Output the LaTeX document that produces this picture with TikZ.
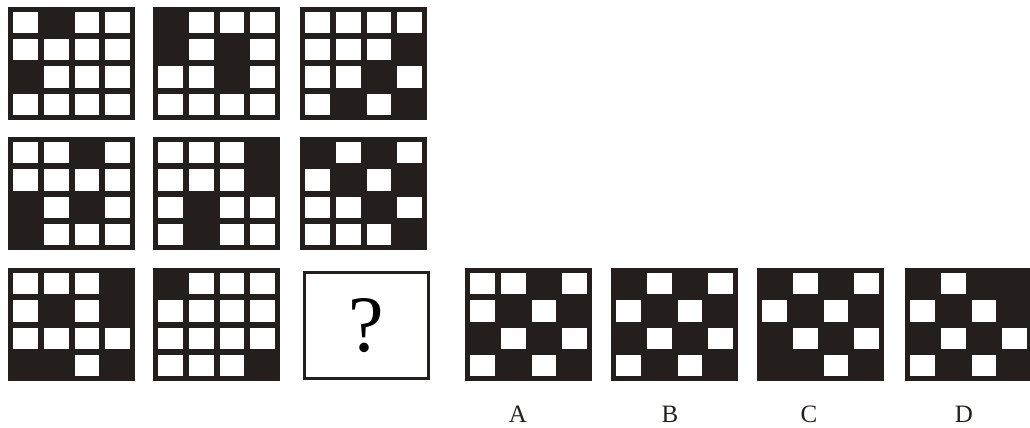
\documentclass[tikz,border=0pt]{standalone}
\usepackage{fontspec}
\setmainfont{Liberation Serif}
\definecolor{ink}{RGB}{36,31,28}

\newcommand{\gridpanel}[4]{% name, left, top, cells row by row (1 = black)
    \node[panel] (#1) at (#2,#3) {};
    \foreach \cell [count=\i from 0] in {#4} {
        \pgfmathtruncatemacro{\row}{div(\i,4)}
        \pgfmathtruncatemacro{\col}{mod(\i,4)}
        \ifnum\cell=0 \fill[white] (#2+5+\col*30.75, #3+5+\row*27.25) rectangle ++(24.75,21.25); \fi
    }
}

\begin{document}
\begin{tikzpicture}[x=1pt, y=-1pt,
    panel/.style={fill=ink, anchor=north west, minimum width=127pt, minimum height=113pt, inner sep=0pt, outer sep=0pt},
    qpanel/.style={draw=ink, line width=2.5pt, fill=white, anchor=north west, minimum width=124pt, minimum height=106pt, inner sep=0pt, font=\fontsize{80}{80}\selectfont},
    optlabel/.style={text=ink, font=\fontsize{25}{25}\selectfont}]
    \useasboundingbox (0,0) rectangle (1030,428);
    % first row
    \gridpanel{p11}{8}{7}{0,1,0,0, 0,0,0,0, 1,0,0,0, 0,0,0,0}
    \gridpanel{p12}{153}{7}{1,0,0,0, 1,0,1,0, 0,0,1,0, 0,0,0,0}
    \gridpanel{p13}{300}{7}{0,0,0,0, 0,0,0,1, 0,0,1,0, 0,1,0,1}
    % second row
    \gridpanel{p21}{8}{137}{0,0,1,0, 0,0,0,0, 1,0,1,0, 1,0,0,0}
    \gridpanel{p22}{153}{137}{0,0,0,1, 0,0,0,1, 0,1,0,0, 0,1,0,0}
    \gridpanel{p23}{300}{137}{1,0,1,0, 0,1,0,1, 0,0,1,0, 0,0,0,1}
    % third row
    \gridpanel{p31}{8}{268}{0,0,0,1, 0,1,0,1, 0,0,0,0, 1,1,0,1}
    \gridpanel{p32}{153}{268}{1,0,0,0, 0,0,0,0, 0,0,0,0, 0,0,0,1}
    \node[qpanel] (q) at (303,271) {?};
    % options
    \gridpanel{optA}{465}{268}{0,0,1,0, 0,1,0,1, 1,0,1,0, 0,1,0,1}
    \gridpanel{optB}{611}{268}{1,0,1,0, 0,1,0,1, 1,0,1,0, 0,1,0,1}
    \gridpanel{optC}{757}{268}{1,0,1,0, 0,1,0,1, 1,0,1,0, 1,1,0,1}
    \gridpanel{optD}{905}{268}{1,0,1,1, 0,1,0,1, 1,0,1,0, 0,1,0,1}
    \node[optlabel] (la) at (518,414) {A}; \node[optlabel] (lb) at (670,414) {B}; \node[optlabel] (lc) at (809,414) {C}; \node[optlabel] (ld) at (964,414) {D};
\end{tikzpicture}
\end{document}
